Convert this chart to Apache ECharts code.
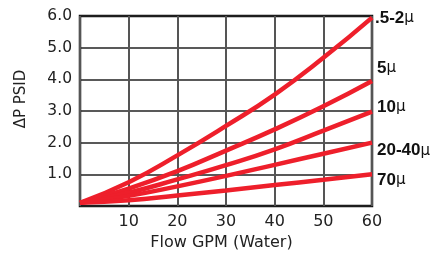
<!DOCTYPE html>
<html><head><meta charset="utf-8">
<script src="https://cdn.jsdelivr.net/npm/echarts@6/dist/echarts.min.js"></script>
<style>html,body{margin:0;padding:0;background:#fff}#c{width:435px;height:254px}</style>
</head><body><div id="c"></div>
<script>
var flow = [0, 10, 20, 30, 40, 50, 60];
var seriesNames = ['.5-2', '5', '10', '20-40', '70'];
var s05_2 = [0.1, 0.75, 1.6, 2.53, 3.52, 4.68, 5.95];
var s5 = [0.1, 0.55, 1.1, 1.75, 2.42, 3.15, 3.95];
var s10 = [0.1, 0.42, 0.84, 1.29, 1.79, 2.38, 2.98];
var s20_40 = [0.1, 0.32, 0.62, 0.95, 1.3, 1.65, 2.0];
var s70 = [0.1, 0.18, 0.33, 0.49, 0.66, 0.83, 1.0];
var xTicks = ['', '10', '20', '30', '40', '50', '60'];
var yTicks = ['', '1.0', '2.0', '3.0', '4.0', '5.0', '6.0'];

var allValues = [s05_2, s5, s10, s20_40, s70];
var labelOffsets = [[0, 1], [2, -13], [2, -4.5], [2, 8], [2, 5.5]];
var RED = '#ee1f2b';
var axisFont = '"DejaVu Sans", sans-serif';

var series = allValues.map(function (vals, i) {
  return {
    type: 'line',
    name: seriesNames[i],
    data: flow.map(function (f, j) { return [f, vals[j]]; }),
    smooth: 0.5,
    showSymbol: false,
    symbol: 'none',
    lineStyle: { color: RED, width: 4.5 },
    clip: false,
    endLabel: {
      show: true,
      offset: labelOffsets[i],
      distance: 3,
      formatter: function (p) { return '{a|' + p.seriesName + '}{m|μ}'; },
      rich: {
        a: { fontFamily: '"Liberation Sans", Arial, sans-serif', fontWeight: 'bold', fontSize: 17, color: '#111' },
        m: { fontFamily: '"DejaVu Sans", sans-serif', fontWeight: 'normal', fontSize: 15, color: '#111' }
      }
    },
    z: 3
  };
});

var chart = echarts.init(document.getElementById('c'), null, { renderer: 'canvas' });
chart.setOption({
  animation: false,
  grid: { left: 80, right: 63, top: 16, bottom: 48, outerBoundsMode: 'none', containLabel: false,
    show: true, borderColor: '#111', borderWidth: 2.5, backgroundColor: '#fff', z: 0 },
  xAxis: {
    type: 'value', min: 0, max: 60, interval: 10,
    name: 'Flow GPM (Water)', nameLocation: 'middle', nameGap: 29,
    nameTextStyle: { fontFamily: axisFont, fontSize: 16, color: '#222', padding: [0, 9, 0, 0] },
    axisLine: { show: false },
    axisTick: { show: false },
    axisLabel: { fontFamily: axisFont, fontSize: 16, color: '#222', margin: 8,
      formatter: function (v) { return xTicks[Math.round(v / 10)]; } },
    splitLine: { show: true, lineStyle: { color: '#555', width: 2 } }
  },
  yAxis: {
    type: 'value', min: 0, max: 6, interval: 1,
    name: 'ΔP PSID', nameLocation: 'middle', nameGap: 51, nameRotate: 90,
    nameTextStyle: { fontFamily: axisFont, fontSize: 15, color: '#222', padding: [0, 0, 0, 24] },
    axisLine: { show: false },
    axisTick: { show: false },
    axisLabel: { fontFamily: axisFont, fontSize: 15.5, color: '#222', margin: 8,
      formatter: function (v) { return yTicks[Math.round(v)]; } },
    splitLine: { show: true, lineStyle: { color: '#222', width: 1.5 } }
  },
  series: series
});
</script></body></html>
